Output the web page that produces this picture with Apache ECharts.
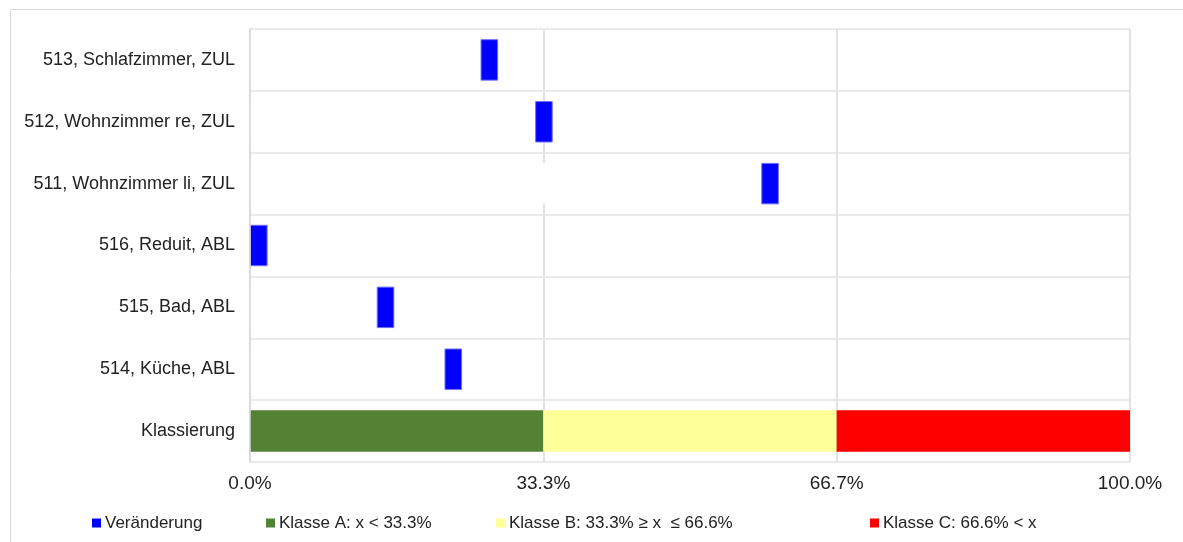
<!DOCTYPE html>
<html>
<head>
<meta charset="utf-8">
<script src="https://cdn.jsdelivr.net/npm/echarts@6/dist/echarts.min.js"></script>
<style>html,body{margin:0;padding:0;background:#fff;}#c{width:1183px;height:542px;}</style>
</head>
<body>
<div id="c"></div>
<script>
// Categories, bottom to top
const categories = ['Klassierung', '514, Küche, ABL', '515, Bad, ABL', '516, Reduit, ABL', '511, Wohnzimmer li, ZUL', '512, Wohnzimmer re, ZUL', '513, Schlafzimmer, ZUL'];
// Start position (%) of each change marker (invisible offset)
const markerStart = ['-', 22.1, 14.4, 0.0, 58.1, 32.4, 26.2];
// Marker width (%)
const markerWidth = ['-', 2.0, 2.0, 2.0, 2.0, 2.0, 2.0];
// Class bands on the "Klassierung" row
const klasseA = [33.33, '-', '-', '-', '-', '-', '-'];
const klasseB = [33.33, '-', '-', '-', '-', '-', '-'];
const klasseC = [33.34, '-', '-', '-', '-', '-', '-'];
const xTicks = [0, 100 / 3, 200 / 3, 100];

const FONT = "'Liberation Sans', Arial, sans-serif";
const chart = echarts.init(document.getElementById('c'), null, {renderer: 'canvas'});

function leg(name, left) {
  return {
    data: [name], left: left, top: 513, padding: 0,
    itemWidth: 9, itemHeight: 9, itemGap: 0, icon: 'rect',
    selectedMode: false,
    itemStyle: {borderWidth: 0},
    textStyle: {fontFamily: FONT, fontSize: 17, color: '#222', lineHeight: 20, padding: [0, 0, 0, -1]}
  };
}

chart.setOption({
  animation: false,
  backgroundColor: '#fff',
  textStyle: {fontFamily: FONT},
  graphic: [{
    type: 'rect', z: -1, silent: true,
    shape: {x: 10.5, y: 9.5, width: 1300, height: 700},
    style: {fill: 'none', stroke: '#d9d9d9', lineWidth: 1}
  }],
  grid: {left: 250, right: 53, top: 29, bottom: 80, containLabel: false},
  legend: [
    leg('Veränderung', 92),
    leg('Klasse A: x < 33.3%', 266),
    leg('Klasse B: 33.3% ≥ x  ≤ 66.6%', 496),
    leg('Klasse C: 66.6% < x', 870)
  ],
  xAxis: {
    type: 'value', min: 0, max: 100,
    interval: 100 / 3,
    axisLine: {show: false}, axisTick: {show: false},
    splitLine: {show: true, lineStyle: {color: '#d9d9d9', width: 1.5}},
    axisLabel: {
      fontFamily: FONT, fontSize: 19, color: '#222', margin: 12,
      formatter: v => (Math.round(v * 10) / 10).toFixed(1) + '%'
    }
  },
  yAxis: {
    type: 'category', data: categories, z: 5,
    axisLine: {show: true, lineStyle: {color: '#d9d9d9', width: 1.5}},
    axisTick: {show: false},
    splitLine: {show: true, lineStyle: {color: '#e3e3e3', width: 1.5}},
    axisLabel: {fontFamily: FONT, fontSize: 18, color: '#222', margin: 15}
  },
  series: [
    {name: 'offset', type: 'bar', stack: 's', data: markerStart, silent: true,
      barCategoryGap: '33%', itemStyle: {color: '#ffffff'}},
    {name: 'Veränderung', type: 'bar', stack: 's', data: markerWidth,
      itemStyle: {color: '#0000ff', borderColor: '#7070ff', borderWidth: 1}},
    {name: 'Klasse A: x < 33.3%', type: 'bar', stack: 's', data: klasseA, itemStyle: {color: '#548235'}},
    {name: 'Klasse B: 33.3% ≥ x  ≤ 66.6%', type: 'bar', stack: 's', data: klasseB, itemStyle: {color: '#ffff99'}},
    {name: 'Klasse C: 66.6% < x', type: 'bar', stack: 's', data: klasseC, itemStyle: {color: '#ff0000'}}
  ]
});
</script>
</body>
</html>
